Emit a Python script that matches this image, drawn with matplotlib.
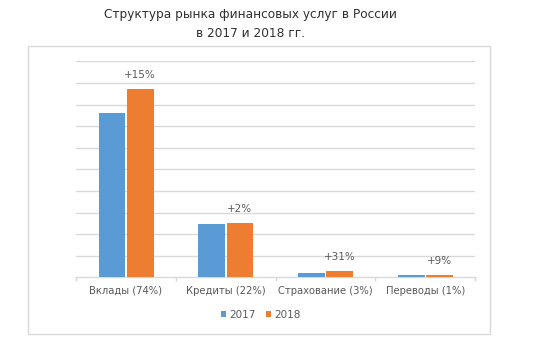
import numpy as np
import matplotlib
matplotlib.use('Agg')
import matplotlib.pyplot as plt
from matplotlib.patches import Rectangle

# data (units = one gridline step)
categories = ['Вклады (74%)', 'Кредиты (22%)', 'Страхование (3%)', 'Переводы (1%)']
values_2017 = [7.60, 2.48, 0.22, 0.10]
values_2018 = [8.72, 2.53, 0.29, 0.11]
growth = ['+15%', '+2%', '+31%', '+9%']
years = ['2017', '2018']

blue = '#5B9BD5'
orange = '#ED7D31'
grey_text = '#595959'
grid_col = '#D9D9D9'

plt.rcParams['font.family'] = ['DejaVu Sans']

fig = plt.figure(figsize=(5.43, 3.57), dpi=100)
ax = fig.add_axes([76/543, 1 - 277.3/357, 399/543, 216/357])

x = np.arange(len(categories))
w = 0.267
ax.bar(x - 0.139, values_2017, w, color=blue, label=years[0], zorder=3)
bars18 = ax.bar(x + 0.144, values_2018, w, color=orange, label=years[1], zorder=3)

for b, g in zip(bars18, growth):
    ax.annotate(g, (b.get_x() + b.get_width() / 2, b.get_height()),
                xytext=(0, 10), textcoords='offset points',
                ha='center', va='center', fontsize=7.5, color=grey_text)

ax.set_xlim(-0.5, 3.5)
ax.set_ylim(0, 10)
ax.set_yticks(np.arange(1, 11))
ax.yaxis.grid(True, color=grid_col, linewidth=1, zorder=0)
ax.tick_params(axis='y', length=0, labelleft=False)

ax.set_xticks(x)
ax.set_xticklabels(categories, fontsize=7.2, color=grey_text)
ax.set_xticks(np.arange(-0.5, 4, 1), minor=True)
ax.tick_params(axis='x', which='major', length=0, pad=6)
ax.tick_params(axis='x', which='minor', length=3, color=grid_col, width=1)

for s in ['top', 'right', 'left']:
    ax.spines[s].set_visible(False)
ax.spines['bottom'].set_color(grid_col)
ax.spines['bottom'].set_linewidth(1)

leg = fig.legend(loc='center', bbox_to_anchor=(261/543, 1 - 315/357), ncol=2,
                 frameon=False, fontsize=7.5, handlelength=0.5, handleheight=0.5,
                 handletextpad=0.3, columnspacing=1.0)
for t in leg.get_texts():
    t.set_color(grey_text)

fig.text(250/543, 1 - 24/357, 'Структура рынка финансовых услуг в России\nв 2017 и 2018 гг.',
         ha='center', va='center', multialignment='center', fontsize=8.7,
         color='#303030', linespacing=1.55)

fig.patches.append(Rectangle((27.5/543, 1 - 334/357), 462/543, 288/357,
                             transform=fig.transFigure, fill=False,
                             edgecolor=grid_col, linewidth=1))

fig.savefig('out.png', dpi=100)
